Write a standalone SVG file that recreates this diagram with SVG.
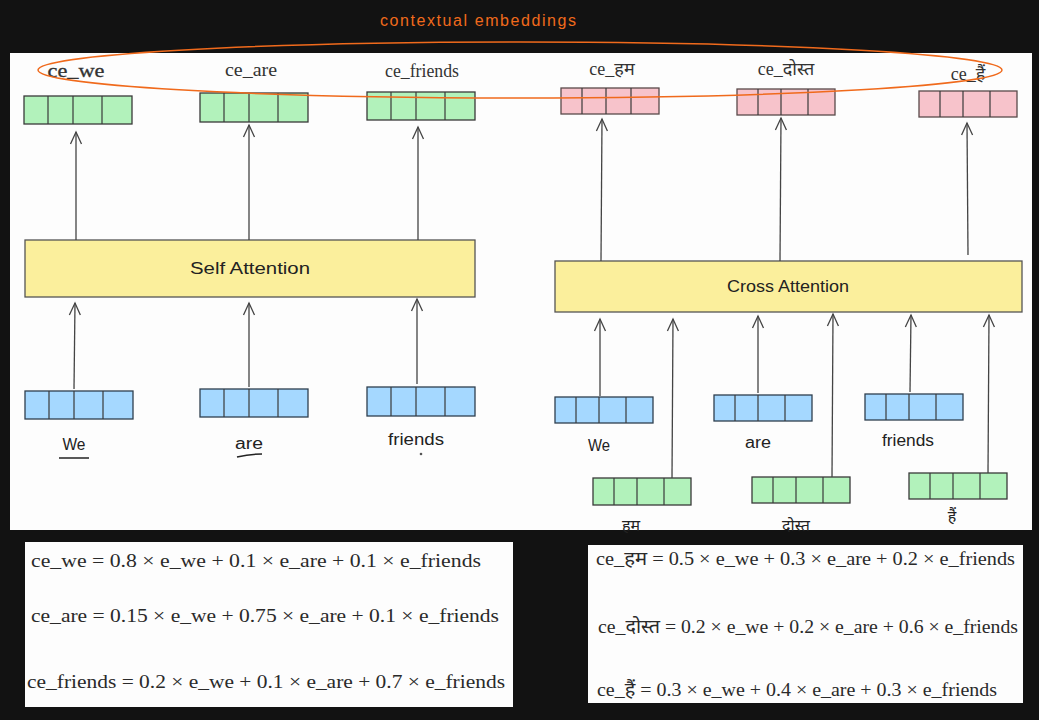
<svg xmlns="http://www.w3.org/2000/svg" width="1039" height="720" viewBox="0 0 1039 720">
<defs>
<marker id="ah" viewBox="-13 -7 15 14" markerWidth="15" markerHeight="14" refX="0" refY="0" orient="auto" markerUnits="userSpaceOnUse">
<path d="M-12,-5.5 L0,0 L-12,5.5" fill="none" stroke="#444" stroke-width="1.3"/>
</marker>
</defs>
<style>
.cell{stroke:#3a3a3a;stroke-width:1.3}
.g{fill:#b2f2bb}
.p{fill:#f7c3cb;stroke:#5a4a4a}
.b{fill:#a5d8ff;stroke:#2f3f4f}
.div{stroke:#3a3a3a;stroke-width:1.2}
.lbl{font-family:"Liberation Serif","DejaVu Serif","Noto Sans Devanagari",serif;font-size:18px;fill:#333;text-anchor:middle}
.hand{font-family:"Liberation Sans","Noto Sans","Noto Sans Devanagari",sans-serif;font-size:16px;fill:#222;text-anchor:middle}
.eq{font-family:"Liberation Serif","DejaVu Serif","Noto Sans Devanagari",serif;font-size:19px;fill:#2a2a2a}
.att{fill:#fbef9c;stroke:#555;stroke-width:1.3}
#connectors line{stroke:#444;stroke-width:1.3;marker-end:url(#ah)}
</style>
<rect x="0" y="0" width="1039" height="720" fill="#121212"/>
<rect x="10" y="53" width="1022" height="477" fill="#fdfdfd"/>
<rect x="25" y="542" width="488" height="165" fill="#fdfdfd"/>
<rect x="588" y="545" width="435" height="158" fill="#fdfdfd"/>

<!-- top green boxes -->
<g id="ce_we">
<rect class="cell g" x="24" y="96" width="108" height="28"/>
<path class="div" d="M48,96V124M73,96V124M102,96V124"/>
<text class="lbl" x="76" y="77" font-size="19" stroke="#333" stroke-width="0.3" textLength="57" lengthAdjust="spacingAndGlyphs">ce_we</text>
</g>
<g id="ce_are">
<rect class="cell g" x="200" y="93" width="108" height="29"/>
<path class="div" d="M224,93V122M249,93V122M278,93V122"/>
<text class="lbl" x="251" y="76" textLength="52" lengthAdjust="spacingAndGlyphs">ce_are</text>
</g>
<g id="ce_friends">
<rect class="cell g" x="367" y="92" width="108" height="28"/>
<path class="div" d="M391,92V120M416,92V120M445,92V120"/>
<text class="lbl" x="422" y="77" textLength="74" lengthAdjust="spacingAndGlyphs">ce_friends</text>
</g>
<!-- pink boxes -->
<g id="ce_ham">
<rect class="cell p" x="561" y="88" width="98" height="26"/>
<path class="div" d="M582,88V114M606,88V114M631,88V114"/>
<text class="lbl" x="612" y="75" font-size="16">ce_हम</text>
</g>
<g id="ce_dost">
<rect class="cell p" x="737" y="89" width="98" height="26"/>
<path class="div" d="M758,89V115M781,89V115M808,89V115"/>
<text class="lbl" x="786" y="75" font-size="17">ce_दोस्त</text>
</g>
<g id="ce_hain">
<rect class="cell p" x="919" y="91" width="98" height="26"/>
<path class="div" d="M940,91V117M963,91V117M990,91V117"/>
<text class="lbl" x="968" y="80" font-size="17">ce_हैं</text>
</g>

<!-- attention blocks -->
<g id="self_attention">
<rect class="att" x="25" y="240" width="450" height="57"/>
<text class="hand" x="250" y="274" textLength="120" lengthAdjust="spacingAndGlyphs">Self Attention</text>
</g>
<g id="cross_attention">
<rect class="att" x="555" y="261" width="467" height="51"/>
<text class="hand" x="788" y="292" textLength="122" lengthAdjust="spacingAndGlyphs">Cross Attention</text>
</g>

<!-- left blue boxes -->
<g id="e_we">
<rect class="cell b" x="25" y="391" width="108" height="28"/>
<path class="div" d="M49,391V419M74,391V419M103,391V419"/>
<text class="hand" x="74" y="450" textLength="23" lengthAdjust="spacingAndGlyphs">We</text>
<path d="M59,458H89" stroke="#222" stroke-width="1.5"/>
</g>
<g id="e_are">
<rect class="cell b" x="200" y="389" width="108" height="28"/>
<path class="div" d="M224,389V417M249,389V417M278,389V417"/>
<text class="hand" x="249" y="449" textLength="28" lengthAdjust="spacingAndGlyphs">are</text>
<path d="M237,457Q250,454 262,454" stroke="#222" stroke-width="1.5" fill="none"/>
</g>
<g id="e_friends">
<rect class="cell b" x="367" y="387" width="108" height="29"/>
<path class="div" d="M391,387V416M416,387V416M445,387V416"/>
<text class="hand" x="416" y="445" textLength="56" lengthAdjust="spacingAndGlyphs">friends</text>
<circle cx="421" cy="454" r="1.3" fill="#555"/>
</g>

<!-- right blue boxes -->
<g id="x_we">
<rect class="cell b" x="555" y="397" width="98" height="26"/>
<path class="div" d="M576,397V423M599,397V423M626,397V423"/>
<text class="hand" x="599" y="451" font-size="15" textLength="22" lengthAdjust="spacingAndGlyphs">We</text>
</g>
<g id="x_are">
<rect class="cell b" x="714" y="395" width="98" height="26"/>
<path class="div" d="M735,395V421M758,395V421M785,395V421"/>
<text class="hand" x="758" y="448" font-size="15" textLength="26" lengthAdjust="spacingAndGlyphs">are</text>
</g>
<g id="x_friends">
<rect class="cell b" x="865" y="394" width="98" height="26"/>
<path class="div" d="M886,394V420M909,394V420M936,394V420"/>
<text class="hand" x="908" y="446" font-size="15" textLength="52" lengthAdjust="spacingAndGlyphs">friends</text>
</g>
<!-- right green boxes -->
<g id="e_ham">
<rect class="cell g" x="593" y="478" width="98" height="27"/>
<path class="div" d="M614,478V505M637,478V505M664,478V505"/>
<text class="hand" x="631" y="531" font-size="15">हम</text>
</g>
<g id="e_dost">
<rect class="cell g" x="752" y="477" width="98" height="26"/>
<path class="div" d="M773,477V503M796,477V503M823,477V503"/>
<text class="hand" x="796" y="531" font-size="15">दोस्त</text>
</g>
<g id="e_hain">
<rect class="cell g" x="909" y="473" width="98" height="26"/>
<path class="div" d="M930,473V499M953,473V499M980,473V499"/>
<text class="hand" x="952" y="522" font-size="15">हैं</text>
</g>

<g id="connectors">
<line x1="76" y1="240" x2="76" y2="132"/>
<line x1="249" y1="240" x2="249" y2="125"/>
<line x1="418" y1="240" x2="418" y2="127"/>
<line x1="74" y1="389" x2="75" y2="303"/>
<line x1="249" y1="387" x2="249" y2="303"/>
<line x1="417" y1="384" x2="417" y2="299"/>
<line x1="601" y1="261" x2="602" y2="119"/>
<line x1="780" y1="261" x2="781" y2="118"/>
<line x1="968" y1="255" x2="967" y2="123"/>
<line x1="600" y1="396" x2="600" y2="319"/>
<line x1="672" y1="478" x2="673" y2="319"/>
<line x1="758" y1="393" x2="758" y2="316"/>
<line x1="832" y1="477" x2="833" y2="314"/>
<line x1="910" y1="392" x2="911" y2="315"/>
<line x1="988" y1="473" x2="989" y2="315"/>
</g>

<g id="contextual_embeddings">
<ellipse cx="520" cy="70" rx="482" ry="28" fill="none" stroke="#f06a1c" stroke-width="1.5"/>
<text x="478" y="26" font-family="'Liberation Sans',sans-serif" font-size="16" fill="#f06a1c" text-anchor="middle" textLength="196">contextual embeddings</text>
</g>

<g id="equations">
<text class="eq" x="31" y="567" textLength="450" lengthAdjust="spacingAndGlyphs">ce_we = 0.8 × e_we + 0.1 × e_are + 0.1 × e_friends</text>
<text class="eq" x="31" y="622" textLength="468" lengthAdjust="spacingAndGlyphs">ce_are = 0.15 × e_we + 0.75 × e_are + 0.1 × e_friends</text>
<text class="eq" x="27" y="688" textLength="478" lengthAdjust="spacingAndGlyphs">ce_friends = 0.2 × e_we + 0.1 × e_are + 0.7 × e_friends</text>
<text class="eq" x="596" y="565" font-size="18" textLength="419" lengthAdjust="spacingAndGlyphs">ce_हम = 0.5 × e_we + 0.3 × e_are + 0.2 × e_friends</text>
<text class="eq" x="598" y="633" font-size="18" textLength="420" lengthAdjust="spacingAndGlyphs">ce_दोस्त = 0.2 × e_we + 0.2 × e_are + 0.6 × e_friends</text>
<text class="eq" x="597" y="696" font-size="18" textLength="400" lengthAdjust="spacingAndGlyphs">ce_हैं = 0.3 × e_we + 0.4 × e_are + 0.3 × e_friends</text>
</g>
</svg>
